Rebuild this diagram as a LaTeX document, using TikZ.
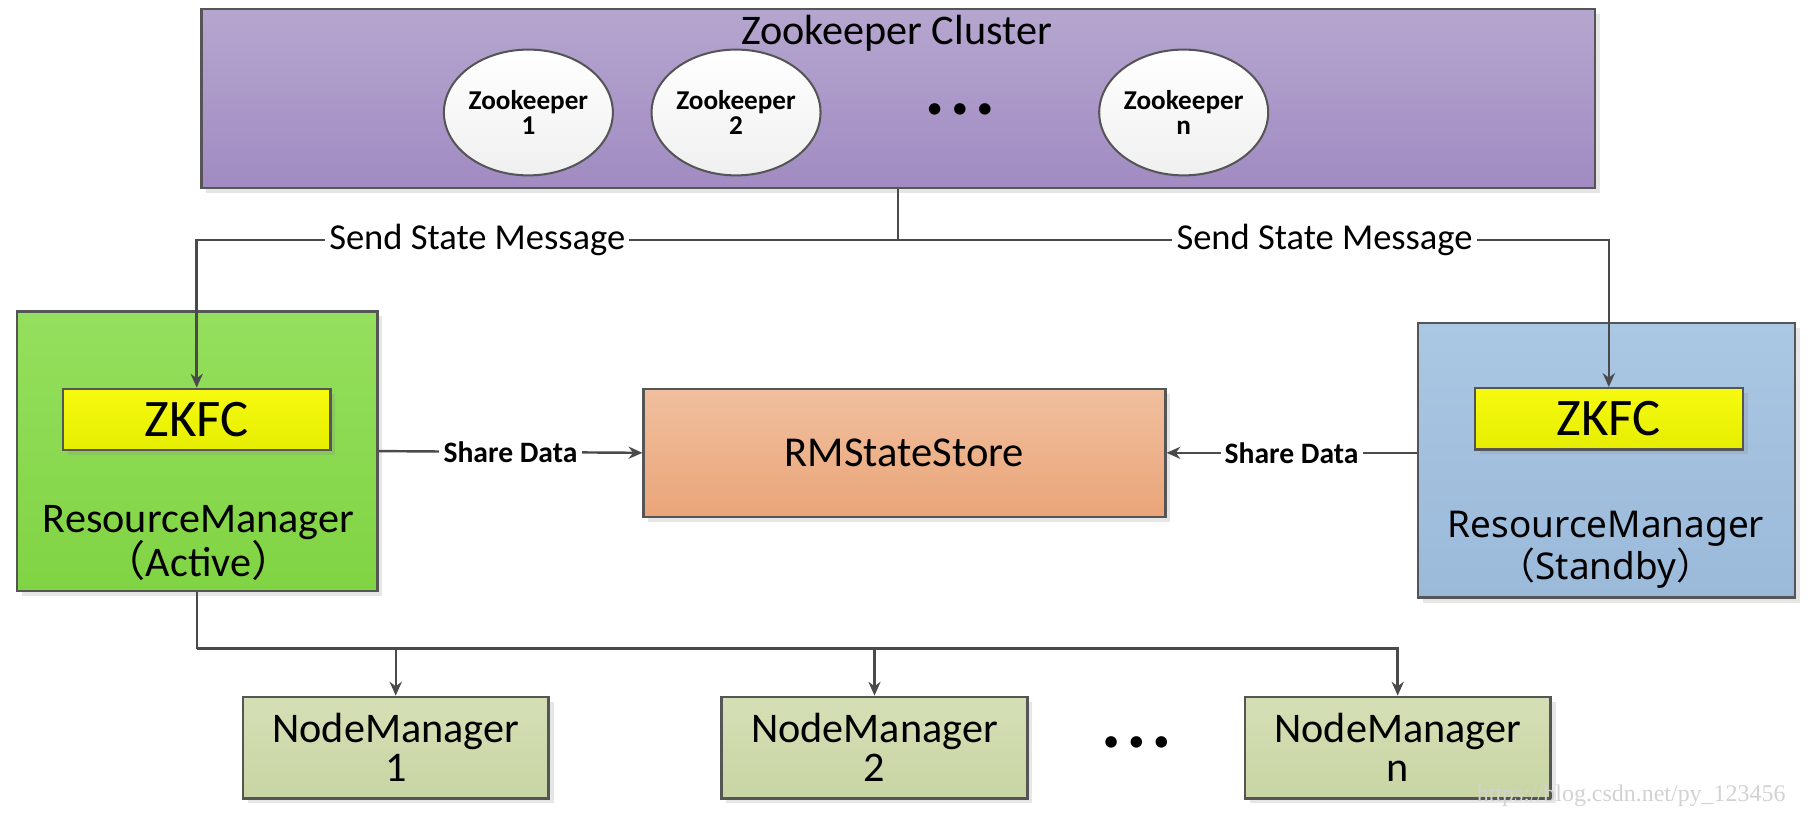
\documentclass[tikz,border=0pt]{standalone}
\usepackage{fontspec}
\setmainfont{Carlito}
\newfontfamily\notosans{Noto Sans}
\newfontfamily\cjk{Noto Sans CJK SC}
\newfontfamily\wmfont{Liberation Serif}
\usetikzlibrary{shapes.geometric,arrows.meta,shadows,calc}

\definecolor{boxline}{HTML}{555555}
\definecolor{lineclr}{HTML}{4A4A4A}
\definecolor{zkTop}{HTML}{B5A6CF}
\definecolor{zkBot}{HTML}{A18BC2}
\definecolor{actTop}{HTML}{95DF5E}
\definecolor{actBot}{HTML}{80D443}
\definecolor{stbTop}{HTML}{AAC7E3}
\definecolor{stbBot}{HTML}{9BB9D9}
\definecolor{zkfcTop}{HTML}{F6FA10}
\definecolor{zkfcBot}{HTML}{E6EE00}
\definecolor{storeTop}{HTML}{F0BF9E}
\definecolor{storeBot}{HTML}{EAA579}
\definecolor{nmTop}{HTML}{D5DFB6}
\definecolor{nmBot}{HTML}{C8D5A3}

\begin{document}
\begin{tikzpicture}[
    x=0.01cm, y=-0.01cm,
    >={Stealth[length=3.4pt,width=3pt]},
    plainbox/.style={rectangle, draw=boxline, line width=0.6pt, inner sep=0pt, drop shadow={shadow xshift=1.2pt, shadow yshift=-1.2pt, opacity=0.2}},
    cluster/.style={plainbox, top color=zkTop, bottom color=zkBot, minimum width=12.07cm, minimum height=1.55cm},
    zknode/.style={ellipse, draw=boxline, line width=0.5pt, top color=white, bottom color=gray!12, minimum width=1.44cm, minimum height=1.09cm, inner sep=0pt, align=center, font=\bfseries\fontsize{6.7}{6.3}\selectfont},
    rmactive/.style={plainbox, top color=actTop, bottom color=actBot, minimum width=3.12cm, minimum height=2.42cm},
    rmstandby/.style={plainbox, top color=stbTop, bottom color=stbBot, minimum width=3.27cm, minimum height=2.38cm},
    zkfc/.style={plainbox, top color=zkfcTop, bottom color=zkfcBot, minimum width=2.32cm, minimum height=0.53cm, font=\fontsize{13}{13}\selectfont},
    store/.style={plainbox, top color=storeTop, bottom color=storeBot, minimum width=4.52cm, minimum height=1.11cm, font=\fontsize{10.5}{10.5}\selectfont},
    nodemgr/.style={plainbox, top color=nmTop, bottom color=nmBot, minimum width=2.65cm, minimum height=0.88cm, align=center, font=\fontsize{10.4}{9.6}\selectfont},
    arrow/.style={->, draw=lineclr, line width=0.6pt},
    lbl/.style={fill=white, inner sep=1pt, font=\fontsize{9}{9}\selectfont},
    sharelbl/.style={fill=white, inner sep=1pt, font=\bfseries\fontsize{7.3}{7.3}\selectfont},
    dots/.style={font=\fontsize{8}{8}\selectfont}
]
\useasboundingbox (0,0) rectangle (1568,709);

% Zookeeper cluster
\node[cluster] (cluster) at (778.5,85.5) {};
\node (zktitle) at (777,29) {\fontsize{10.4}{10.4}\selectfont Zookeeper Cluster};
\node[zknode] (zk1) at (458,97.5) {Zookeeper\\1};
\node[zknode] (zk2) at (638,97.5) {Zookeeper\\2};
\node[dots] (zkdots) at (832,96) {•\hspace{2.2pt}•\hspace{2.2pt}•};
\node[zknode] (zkn) at (1026,97.5) {Zookeeper\\n};

% ResourceManagers
\node[rmactive] (rmA) at (171,391) {};
\node[zkfc] (zkfcA) at (170.5,363.5) {ZKFC};
\node[align=center, font=\fontsize{10.4}{10.8}\selectfont] (rmAtext) at (172,471) {ResourceManager\\{\cjk （}Active{\cjk ）}};

\node[rmstandby] (rmS) at (1392.5,399) {};
\node[zkfc] (zkfcS) at (1394.5,363) {ZKFC};
\node[align=center, font=\notosans\fontsize{9.1}{10.5}\selectfont] (rmStext) at (1392,476.5) {ResourceManager\\{\cjk （}Standby{\cjk ）}};

% State store
\node[store] (store) at (784,392.5) {RMStateStore};

% NodeManagers
\node[nodemgr] (nm1) at (343,648) {NodeManager\\1};
\node[nodemgr] (nm2) at (758,648) {NodeManager\\2};
\node[dots] (nmdots) at (985,645) {•\hspace{2.2pt}•\hspace{2.2pt}•};
\node[nodemgr] (nmn) at (1211.5,648) {NodeManager\\n};

% Arrows
\draw[arrow] (cluster.south) -- ++(0,44) coordinate (split) -| node[lbl, pos=0.3] {Send State Message} (zkfcA.north);
\draw[arrow] (split) -| node[lbl, pos=0.3] {Send State Message} (zkfcS.north);

\draw[arrow] (rmA.east) -- node[sharelbl] {Share Data} (store.west);
\draw[arrow] (rmS.west |- store.east) -- node[sharelbl] {Share Data} (store.east);

\draw[arrow, -] (rmA.south) -- ++(0,49) coordinate (bus);
\foreach \nm in {nm1,nm2,nmn}
    \draw[arrow] (bus) -| (\nm.north);

% watermark
\node[anchor=east, text=gray!35, font=\wmfont\fontsize{5.9}{5.9}\selectfont] (wm) at (1560,690) {https://blog.csdn.net/py\_123456};

\end{tikzpicture}
\end{document}
